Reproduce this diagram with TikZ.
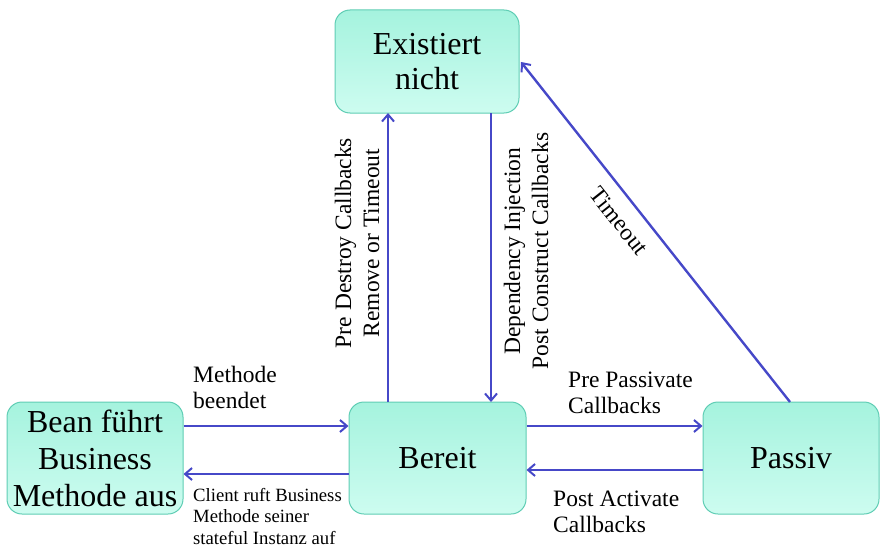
\documentclass[tikz,border=0pt]{standalone}
\usepackage{fontspec}
\setmainfont{Liberation Serif}
\usetikzlibrary{arrows.meta,shadings}
\definecolor{boxtop}{RGB}{165,243,222}
\definecolor{boxbot}{RGB}{205,252,240}
\definecolor{boxline}{RGB}{95,205,180}
\definecolor{arr}{RGB}{70,72,200}
\tikzset{
  state/.style={draw=boxline, line width=1pt, rounded corners=15pt, top color=boxtop, bottom color=boxbot,
     minimum width=176pt, minimum height=112pt, align=center, inner sep=0pt,
     font=\fontsize{32}{37}\selectfont},
  conn/.style={draw=arr, line width=2.4pt, -{Straight Barb[length=7pt,width=12pt,line width=2pt]}},
  lbl/.style={font=\fontsize{23.5}{26}\selectfont, align=left, inner sep=0pt},
  slbl/.style={font=\fontsize{18.7}{21.5}\selectfont, align=left, inner sep=0pt},
  vlbl/.style={font=\fontsize{23.5}{28}\selectfont, align=center, inner sep=0pt, rotate=90}
}
\begin{document}
\begin{tikzpicture}[x=1pt,y=-1pt]
\useasboundingbox (0,0) rectangle (885,551);
\node[state, minimum width=184pt, minimum height=103pt, font=\fontsize{32}{35}\selectfont] (ex) at (427,61.5) {Existiert\\nicht};
\node[state] (bean) at (95,458) {Bean führt\\Business\\Methode aus};
\node[state, minimum width=177pt] (ber) at (437.5,458) {Bereit};
\node[state] (pas) at (791,458) {Passiv};

\coordinate (exL) at (388,113);
\coordinate (exR) at (491,113);
\coordinate (berL) at (388,402);
\coordinate (berR) at (491,402);
\draw[conn] (berL) -- (exL);
\draw[conn] (exR) -- (berR);
\coordinate (pasT) at (790,402);
\coordinate (exE) at (521,62);
\draw[conn] (pasT) -- (exE);

\draw[conn] (bean.east |- 0,426) -- (ber.west |- 0,426);
\draw[conn] (ber.west |- 0,474) -- (bean.east |- 0,474);
\draw[conn] (ber.east |- 0,426) -- (pas.west |- 0,426);
\draw[conn] (pas.west |- 0,470) -- (ber.east |- 0,470);

\node[lbl, anchor=north west] (l1) at (193,366) {Methode\\beendet};
\node[slbl, anchor=north west] (l2) at (193,488) {Client ruft Business\\Methode seiner\\stateful Instanz auf};
\node[lbl, anchor=north west] (l3) at (568,372) {Pre Passivate\\Callbacks};
\node[lbl, anchor=north west] (l4) at (553,491) {Post Activate\\Callbacks};
\node[vlbl] (l5) at (357,243) {Pre Destroy Callbacks\\Remove or Timeout};
\node[vlbl] (l6) at (526,251) {Dependency Injection\\Post Construct Callbacks};
\node[font=\fontsize{23.5}{26}\selectfont, rotate=-51.6, inner sep=0pt] (l7) at (619,221) {Timeout};
\end{tikzpicture}
\end{document}
